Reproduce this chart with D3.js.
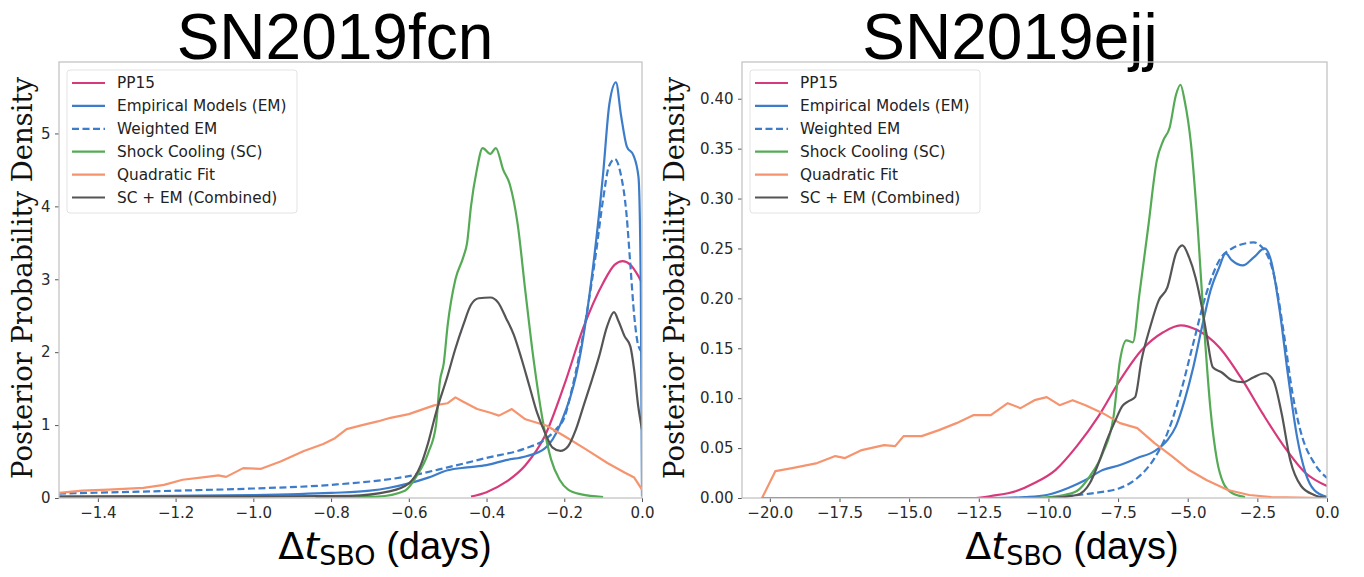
<!DOCTYPE html>
<html><head><meta charset="utf-8">
<script src="https://cdn.jsdelivr.net/npm/d3@7"></script>
<style>body{margin:0;background:#fff;}svg{display:block;}</style>
</head><body>
<svg id="chart" width="1364" height="577"></svg>
<script>
// ---------- DATA ----------
const titles = ["SN2019fcn", "SN2019ejj"];
const seriesNames = ["PP15", "Empirical Models (EM)", "Weighted EM", "Shock Cooling (SC)", "Quadratic Fit", "SC + EM (Combined)"];
const seriesColors = ["#d63a7c", "#3d7cc9", "#3d7cc9", "#55aa55", "#f5946e", "#555555"];
const seriesDashed = [false, false, true, false, false, false];

const fcnXTicks = [-1.4, -1.2, -1.0, -0.8, -0.6, -0.4, -0.2, 0.0];
const fcnYTicks = [0, 1, 2, 3, 4, 5];
const ejjXTicks = [-20, -17.5, -15, -12.5, -10, -7.5, -5, -2.5, 0];
const ejjYTicks = [0, 0.05, 0.10, 0.15, 0.20, 0.25, 0.30, 0.35, 0.40];

// SN2019fcn curves: [dt, density]
const fcnPP15 = [[-0.44,0.02],[-0.4,0.08],[-0.35,0.22],[-0.3,0.45],[-0.25,0.85],[-0.2,1.55],[-0.15,2.35],[-0.1,2.95],[-0.07,3.2],[-0.05,3.25],[-0.03,3.2],[-0.01,3.05],[0,2.95]];
const fcnEM = [[-1.5,0.02],[-1.2,0.03],[-1.0,0.04],[-0.8,0.07],[-0.7,0.1],[-0.65,0.14],[-0.6,0.2],[-0.55,0.28],[-0.5,0.38],[-0.45,0.42],[-0.4,0.45],[-0.35,0.52],[-0.3,0.57],[-0.25,0.68],[-0.211,1.0],[-0.156,2.05],[-0.123,3.3],[-0.1,4.45],[-0.084,5.4],[-0.067,5.7],[-0.054,5.25],[-0.039,4.82],[-0.022,4.7],[-0.009,4.4],[-0.003,2.83],[0,0.02]];
const fcnWEM = [[-1.5,0.06],[-1.2,0.1],[-1.0,0.13],[-0.8,0.18],[-0.6,0.3],[-0.5,0.42],[-0.4,0.55],[-0.3,0.68],[-0.25,0.8],[-0.22,0.95],[-0.2,1.1],[-0.18,1.5],[-0.16,2.0],[-0.14,2.6],[-0.12,3.3],[-0.1,4.1],[-0.085,4.55],[-0.07,4.65],[-0.055,4.45],[-0.04,3.9],[-0.03,3.2],[-0.02,2.5],[-0.01,2.1],[0,2.0]];
const fcnSC = [[-0.84,0.005],[-0.68,0.02],[-0.61,0.1],[-0.58,0.3],[-0.55,0.62],[-0.53,1.0],[-0.52,1.6],[-0.51,1.85],[-0.5,2.37],[-0.48,3.0],[-0.46,3.3],[-0.45,3.5],[-0.44,4.0],[-0.425,4.5],[-0.41,4.8],[-0.39,4.72],[-0.376,4.8],[-0.357,4.5],[-0.34,4.3],[-0.32,3.76],[-0.3,2.83],[-0.279,1.9],[-0.256,1.08],[-0.234,0.53],[-0.212,0.25],[-0.19,0.115],[-0.156,0.05],[-0.1,0.014]];
const fcnQuad = [[-1.5,0.069],[-1.44,0.1],[-1.372,0.115],[-1.283,0.138],[-1.23,0.18],[-1.182,0.25],[-1.12,0.29],[-1.09,0.31],[-1.07,0.29],[-1.026,0.41],[-0.98,0.4],[-0.93,0.5],[-0.87,0.645],[-0.82,0.74],[-0.79,0.82],[-0.76,0.945],[-0.72,1.0],[-0.68,1.05],[-0.647,1.1],[-0.6,1.15],[-0.535,1.27],[-0.5,1.3],[-0.48,1.38],[-0.46,1.32],[-0.424,1.22],[-0.39,1.17],[-0.368,1.13],[-0.335,1.22],[-0.3,1.08],[-0.245,0.99],[-0.2,0.85],[-0.145,0.67],[-0.089,0.48],[-0.045,0.35],[-0.02,0.28],[0,0.115]];
const fcnComb = [[-1.5,0.02],[-1.0,0.02],[-0.75,0.03],[-0.65,0.09],[-0.6,0.2],[-0.57,0.44],[-0.55,0.76],[-0.53,1.17],[-0.5,1.68],[-0.48,2.05],[-0.46,2.37],[-0.44,2.65],[-0.42,2.74],[-0.39,2.75],[-0.37,2.68],[-0.35,2.47],[-0.33,2.24],[-0.31,1.91],[-0.29,1.54],[-0.27,1.17],[-0.25,0.9],[-0.23,0.69],[-0.21,0.645],[-0.19,0.71],[-0.17,0.94],[-0.15,1.27],[-0.13,1.6],[-0.11,1.95],[-0.09,2.35],[-0.072,2.55],[-0.06,2.42],[-0.045,2.22],[-0.03,2.08],[-0.02,1.75],[-0.01,1.27],[0,0.94]];

// SN2019ejj curves
const ejjPP15 = [[-12.6,0.0],[-12.07,0.002],[-11.15,0.007],[-10.5,0.015],[-9.75,0.028],[-8.98,0.052],[-8.2,0.082],[-7.43,0.118],[-6.66,0.148],[-5.88,0.166],[-5.26,0.173],[-4.64,0.168],[-3.87,0.151],[-3.1,0.121],[-2.32,0.085],[-1.55,0.052],[-0.77,0.025],[0,0.012]];
const ejjEM = [[-20.3,0.0],[-12,0.0],[-10.84,0.001],[-10.06,0.003],[-9.29,0.01],[-8.67,0.018],[-8.05,0.028],[-7.43,0.033],[-6.81,0.04],[-6.19,0.047],[-5.73,0.058],[-5.42,0.072],[-5.11,0.098],[-4.8,0.131],[-4.49,0.171],[-4.18,0.208],[-3.87,0.231],[-3.64,0.245],[-3.41,0.238],[-3.02,0.233],[-2.63,0.241],[-2.24,0.25],[-2.01,0.238],[-1.7,0.188],[-1.39,0.121],[-1.08,0.062],[-0.77,0.025],[-0.46,0.008],[0,0.001]];
const ejjWEM = [[-20.3,0.0],[-10,0.0],[-9.29,0.002],[-8.36,0.005],[-7.43,0.01],[-6.81,0.02],[-6.19,0.04],[-5.73,0.065],[-5.26,0.105],[-4.8,0.155],[-4.33,0.205],[-3.87,0.238],[-3.41,0.25],[-2.94,0.255],[-2.63,0.256],[-2.24,0.248],[-1.86,0.218],[-1.55,0.165],[-1.24,0.105],[-0.93,0.065],[-0.46,0.035],[0,0.02]];
const ejjSC = [[-10.5,0.0],[-9.44,0.003],[-8.98,0.007],[-8.51,0.022],[-8.05,0.045],[-7.66,0.082],[-7.43,0.138],[-7.2,0.158],[-6.97,0.156],[-6.73,0.205],[-6.42,0.271],[-6.11,0.338],[-5.88,0.358],[-5.65,0.371],[-5.42,0.404],[-5.26,0.414],[-5.11,0.398],[-4.88,0.354],[-4.64,0.271],[-4.41,0.171],[-4.18,0.088],[-3.95,0.038],[-3.72,0.015],[-3.41,0.005],[-2.94,0.001]];
const ejjQuad = [[-20.28,0.0],[-19.8,0.027],[-19.2,0.03],[-18.3,0.035],[-17.65,0.042],[-17.3,0.04],[-16.7,0.048],[-15.9,0.053],[-15.5,0.052],[-15.2,0.062],[-14.55,0.062],[-13.93,0.068],[-13.3,0.075],[-12.7,0.083],[-12.07,0.083],[-11.46,0.095],[-11.0,0.09],[-10.5,0.098],[-10.06,0.101],[-9.6,0.093],[-9.13,0.098],[-8.67,0.093],[-8.05,0.085],[-7.43,0.075],[-6.81,0.07],[-6.19,0.055],[-5.57,0.042],[-4.95,0.028],[-4.33,0.018],[-3.56,0.008],[-2.79,0.003],[-2.0,0.001],[0,0.0]];
const ejjComb = [[-20.3,0.0],[-10,0.0],[-8.98,0.003],[-8.51,0.015],[-8.2,0.035],[-7.9,0.058],[-7.59,0.078],[-7.35,0.092],[-7.12,0.097],[-6.89,0.101],[-6.66,0.138],[-6.35,0.171],[-6.04,0.198],[-5.73,0.211],[-5.42,0.245],[-5.19,0.253],[-4.95,0.241],[-4.72,0.221],[-4.49,0.191],[-4.33,0.165],[-4.1,0.131],[-3.79,0.126],[-3.41,0.118],[-3.02,0.116],[-2.63,0.121],[-2.24,0.125],[-1.93,0.118],[-1.63,0.085],[-1.32,0.038],[-0.93,0.012],[-0.46,0.003],[0,0.0]];

const fcnSeries = [fcnPP15, fcnEM, fcnWEM, fcnSC, fcnQuad, fcnComb];
const ejjSeries = [ejjPP15, ejjEM, ejjWEM, ejjSC, ejjQuad, ejjComb];

// ---------- DRAW ----------
const svg = d3.select("#chart");
const panels = [
  {title: titles[0], titleX: 335, series: fcnSeries, xDom: [-1.5, 0], yDom: [0, 5.98], xr: [59, 642],
   xt: fcnXTicks, yt: fcnYTicks, xf: d3.format(".1f"), yf: d3.format("d"), labelX: 385},
  {title: titles[1], titleX: 1010, series: ejjSeries, xDom: [-21, 0], yDom: [0, 0.4368], xr: [742, 1327],
   xt: ejjXTicks, yt: ejjYTicks, xf: d3.format(".1f"), yf: d3.format(".2f"), labelX: 1072}
];
const yr = [498, 62];

panels.forEach((p, pi) => {
  const x = d3.scaleLinear().domain(p.xDom).range(p.xr);
  const y = d3.scaleLinear().domain(p.yDom).range(yr);
  const g = svg.append("g");

  // title
  g.append("text").attr("x", p.titleX).attr("y", 59).attr("text-anchor", "middle")
    .attr("font-family", "Liberation Sans, Arial, sans-serif").attr("font-size", 64).attr("fill", "#000")
    .text(p.title);

  // axes
  const xa = g.append("g").attr("transform", `translate(0,${yr[0]})`)
    .call(d3.axisBottom(x).tickValues(p.xt).tickFormat(p.xf).tickSize(4).tickSizeOuter(0));
  const ya = g.append("g").attr("transform", `translate(${p.xr[0]},0)`)
    .call(d3.axisLeft(y).tickValues(p.yt).tickFormat(p.yf).tickSize(4).tickSizeOuter(0));
  [xa, ya].forEach(a => {
    a.select(".domain").remove();
    a.selectAll(".tick line").attr("stroke", "#555").attr("stroke-width", 1);
    a.selectAll(".tick text").attr("font-family", "DejaVu Sans, sans-serif").attr("font-size", 15).attr("fill", "#2a2a2a");
  });
  xa.selectAll(".tick text").attr("dy", "0.85em");
  ya.selectAll(".tick text").attr("dx", "-0.1em");

  // clip
  const cid = "clip" + pi;
  svg.append("clipPath").attr("id", cid).append("rect")
    .attr("x", p.xr[0]).attr("y", yr[1]).attr("width", p.xr[1] - p.xr[0]).attr("height", yr[0] - yr[1]);

  const line = d3.line().x(d => x(d[0])).y(d => y(d[1])).curve(d3.curveMonotoneX);
  const lineLin = d3.line().x(d => x(d[0])).y(d => y(d[1])).curve(d3.curveLinear);
  const plot = g.append("g").attr("clip-path", `url(#${cid})`);
  p.series.forEach((s, i) => {
    plot.append("path").datum(s).attr("d", i === 4 ? lineLin(s) : line(s))
      .attr("fill", "none").attr("stroke", seriesColors[i]).attr("stroke-width", 2.2)
      .attr("stroke-linejoin", "round")
      .attr("stroke-dasharray", seriesDashed[i] ? "7,3.5" : null);
  });

  // frame
  g.append("rect").attr("x", p.xr[0]).attr("y", yr[1]).attr("width", p.xr[1] - p.xr[0]).attr("height", yr[0] - yr[1])
    .attr("fill", "none").attr("stroke", "#c4c4c4").attr("stroke-width", 1.3);

  // legend
  const lx = p.xr[0] + 8, ly = 70;
  const leg = g.append("g");
  leg.append("rect").attr("x", lx).attr("y", ly).attr("width", 230).attr("height", 143).attr("rx", 3)
    .attr("fill", "#fff").attr("fill-opacity", 0.85).attr("stroke", "#e3e3e3").attr("stroke-width", 1);
  seriesNames.forEach((n, i) => {
    const yy = ly + 13 + i * 22.9;
    leg.append("line").attr("x1", lx + 5).attr("x2", lx + 38).attr("y1", yy).attr("y2", yy)
      .attr("stroke", seriesColors[i]).attr("stroke-width", 2.2)
      .attr("stroke-dasharray", seriesDashed[i] ? "7,3.5" : null);
    leg.append("text").attr("x", lx + 50).attr("y", yy).attr("dy", "0.35em")
      .attr("font-family", "DejaVu Sans, sans-serif").attr("font-size", 15.3).attr("fill", "#222").text(n);
  });

  // x label
  const xl = g.append("text").attr("x", p.labelX).attr("y", 559).attr("text-anchor", "middle")
    .attr("font-family", "DejaVu Sans, sans-serif").attr("font-size", 38).attr("fill", "#000");
  xl.append("tspan").text("Δ");
  xl.append("tspan").attr("font-style", "italic").text("t");
  xl.append("tspan").attr("font-size", 27).attr("dy", 6).text("SBO");
  xl.append("tspan").attr("dy", -6).attr("font-family", "Liberation Sans, Arial, sans-serif").text(" (days)");
});

// y labels (serif)
[22, 674].forEach(cx => {
  const t = svg.append("text").attr("transform", `translate(${cx},278) rotate(-90)`)
    .attr("text-anchor", "middle").attr("dominant-baseline", "central")
    .attr("font-family", "DejaVu Serif, serif").attr("font-size", 26).attr("fill", "#111")
    .text("Posterior Probability Density");
  const L = t.node().getComputedTextLength();
  t.attr("font-size", 26 * 402 / L);
});
</script>
</body></html>
